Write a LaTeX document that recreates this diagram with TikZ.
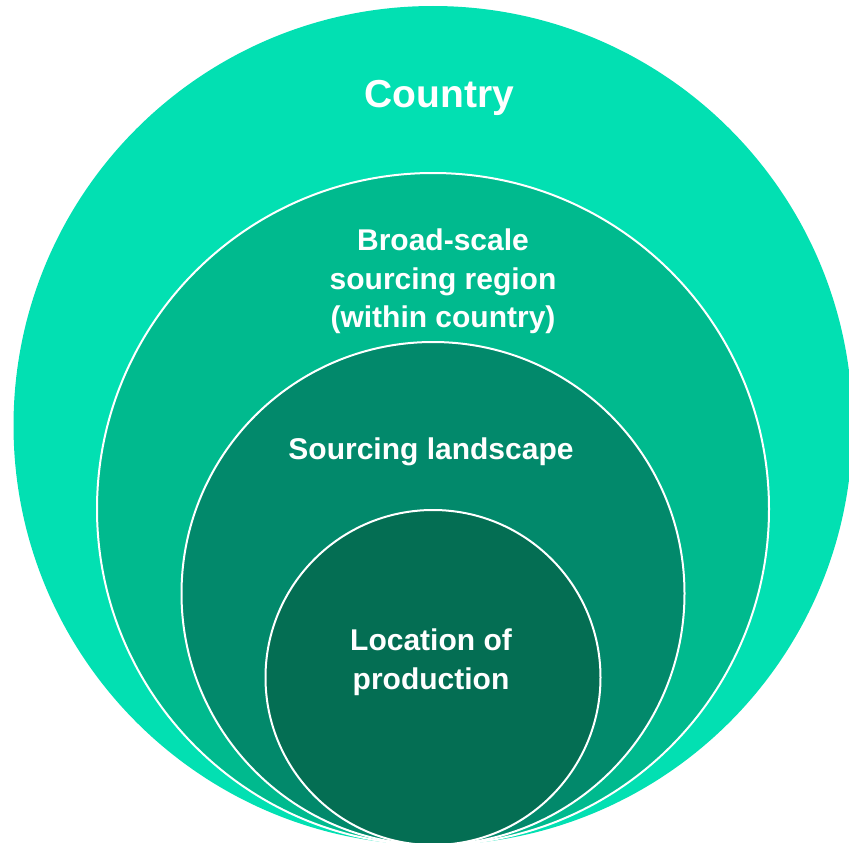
\documentclass[tikz,border=0pt]{standalone}
\usepackage{fontspec}
\setmainfont{Liberation Sans}
\definecolor{countrycol}{RGB}{2,224,178}
\definecolor{regioncol}{RGB}{0,186,142}
\definecolor{landscapecol}{RGB}{2,137,107}
\definecolor{locationcol}{RGB}{4,110,83}
\begin{document}
\begin{tikzpicture}[x=1pt, y=-1pt,
    level/.style ={circle, inner sep=0pt, draw=white, line width=2pt},
    label/.style ={text=white, font=\bfseries\fontsize{30}{38.5}\selectfont, align=center}]
   \useasboundingbox (0,0) rectangle (849,843);
   \clip (0,0) rectangle (849,843);
   \node[level, draw=none, fill=countrycol, minimum size=839pt] (country) at (433,425.5) {};
   \node[level, fill=regioncol, minimum size=672pt] (region) at (433,509) {};
   \node[level, fill=landscapecol, minimum size=503pt] (landscape) at (433,593.5) {};
   \node[level, fill=locationcol, minimum size=335pt] (location) at (433,677.5) {};
   \node[label, font=\bfseries\fontsize{39}{46}\selectfont] (countrytxt) at (439.5,97.5) {Country};
   \node[label] (regiontxt) at (443,281.5) {Broad-scale\\sourcing region\\(within country)};
   \node[label] (landscapetxt) at (431,452) {Sourcing landscape};
   \node[label] (locationtxt) at (431,662) {Location of\\production};
 \end{tikzpicture}
\end{document}
